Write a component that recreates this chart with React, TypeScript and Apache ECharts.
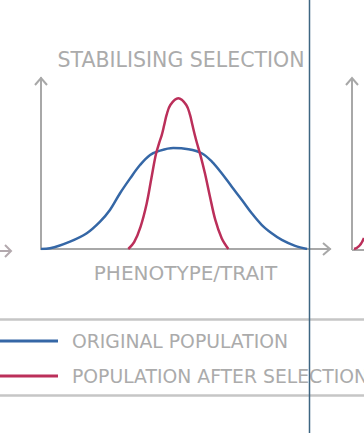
import React, { useEffect, useRef } from "react";
import * as echarts from "echarts";

const titleText = "STABILISING SELECTION";
const xAxisName = "PHENOTYPE/TRAIT";
const seriesNames = ["ORIGINAL POPULATION", "POPULATION AFTER SELECTION"];

// [phenotype, frequency]
const originalPopulation: [number, number][] = [
  [0, 0], [3.4, 0.4], [10.9, 4.3], [17.2, 9.2], [22.2, 16.0], [25.9, 22.8],
  [29.7, 32.6], [33.5, 41.3], [37.2, 49.1], [41.0, 55.0], [44.7, 57.5],
  [49.7, 59.0], [55.4, 58.3], [60.4, 56.0], [64.2, 51.1], [67.9, 44.3],
  [71.7, 36.4], [75.5, 28.7], [79.2, 20.9], [83.0, 14.0], [86.7, 9.2],
  [90.5, 5.3], [95.5, 1.8], [100, 0],
];
const afterSelection: [number, number][] = [
  [32.8, 0], [35.0, 4.0], [37.4, 13.0], [39.7, 26.5], [41.5, 41.5],
  [43.2, 55.5], [44.5, 62.5], [45.4, 66.7], [46.3, 72.5], [47.2, 78.4],
  [48.6, 84.2], [51.6, 88.1], [54.6, 84.2], [56.0, 78.4], [56.9, 72.5],
  [57.8, 66.7], [58.6, 62.0], [59.8, 55.5], [61.6, 44.3], [63.5, 30.6],
  [65.5, 17.0], [67.9, 6.3], [70.4, 0],
];

const FONT = "'DejaVu Sans', sans-serif";
const GRAY = "#a8a8a8";
const TEXT_GRAY = "#ababab";
const BLUE = "#3567a6";
const RED = "#bb2f5a";

export default function App() {
  const ref = useRef<HTMLDivElement>(null);
  useEffect(() => {
    if (!ref.current) return;
    const chart = echarts.init(ref.current, null, { renderer: "svg" });
    chart.setOption({
      animation: false,
      backgroundColor: "#ffffff",
      title: {
        text: titleText,
        left: 181,
        textAlign: "center",
        top: 49,
        padding: 0,
        textStyle: { color: TEXT_GRAY, fontSize: 20.5, fontWeight: "normal", fontFamily: FONT },
      },
      legend: {
        orient: "vertical",
        left: 0,
        top: 331,
        padding: 0,
        icon: "rect",
        itemWidth: 58,
        itemHeight: 3,
        itemGap: 15,
        data: seriesNames,
        textStyle: { color: TEXT_GRAY, fontSize: 18.8, fontFamily: FONT, lineHeight: 20, padding: [0, 0, 0, 9] },
      },
      grid: { left: 41, right: 34, top: 78, bottom: 184 },
      xAxis: {
        type: "value",
        min: 0,
        max: 108.6,
        name: xAxisName,
        nameLocation: "middle",
        nameGap: 14,
        nameTextStyle: { color: TEXT_GRAY, fontSize: 20, fontFamily: FONT },
        axisLine: { show: true, lineStyle: { color: GRAY, width: 2 } },
        axisTick: { show: false },
        axisLabel: { show: false },
        splitLine: { show: false },
      },
      yAxis: {
        type: "value",
        min: 0,
        max: 100,
        axisLine: { show: true, lineStyle: { color: GRAY, width: 2 } },
        axisTick: { show: false },
        axisLabel: { show: false },
        splitLine: { show: false },
      },
      series: [
        {
          name: seriesNames[0],
          type: "line",
          data: originalPopulation,
          smooth: 0.35,
          showSymbol: false,
          lineStyle: { color: BLUE, width: 2.5 },
          itemStyle: { color: BLUE },
        },
        {
          name: seriesNames[1],
          type: "line",
          data: afterSelection,
          smooth: 0.35,
          showSymbol: false,
          lineStyle: { color: RED, width: 2.5 },
          itemStyle: { color: RED },
        },
      ],
      graphic: [
        // arrowheads of the main axes
        { type: "polyline", shape: { points: [[35, 85], [41, 78], [47, 85]] }, style: { stroke: GRAY, lineWidth: 2, fill: null } },
        { type: "polyline", shape: { points: [[323, 243], [330, 249], [323, 255]] }, style: { stroke: GRAY, lineWidth: 2, fill: null } },
        // previous chart's x-axis arrow (left edge)
        { type: "line", shape: { x1: 0, y1: 251, x2: 11, y2: 251 }, style: { stroke: "#b3a9ae", lineWidth: 2 } },
        { type: "polyline", shape: { points: [[5, 245], [11, 251], [5, 257]] }, style: { stroke: "#b3a9ae", lineWidth: 2, fill: null } },
        // next chart's axes (right edge)
        { type: "line", shape: { x1: 352, y1: 250, x2: 352, y2: 78 }, style: { stroke: GRAY, lineWidth: 2 } },
        { type: "polyline", shape: { points: [[346, 85], [352, 78], [358, 85]] }, style: { stroke: GRAY, lineWidth: 2, fill: null } },
        { type: "line", shape: { x1: 352, y1: 250, x2: 364, y2: 250 }, style: { stroke: GRAY, lineWidth: 2 } },
        { type: "bezierCurve", shape: { x1: 354, y1: 249, x2: 364, y2: 238, cpx1: 359, cpy1: 248, cpx2: 362, cpy2: 243 }, style: { stroke: RED, lineWidth: 2.5, fill: null } },
        // legend box rules
        { type: "line", shape: { x1: 0, y1: 319.5, x2: 364, y2: 319.5 }, style: { stroke: "#c6c6c6", lineWidth: 2.5 } },
        { type: "line", shape: { x1: 0, y1: 395.5, x2: 364, y2: 395.5 }, style: { stroke: "#c6c6c6", lineWidth: 2.5 } },
        // video cursor line
        { type: "line", z: 100, shape: { x1: 309.5, y1: 0, x2: 309.5, y2: 433 }, style: { stroke: "#3e6682", lineWidth: 1.5 } },
      ],
    });
    return () => chart.dispose();
  }, []);
  return <div ref={ref} style={{ width: 364, height: 433, position: "absolute", left: 0, top: 0 }} />;
}
